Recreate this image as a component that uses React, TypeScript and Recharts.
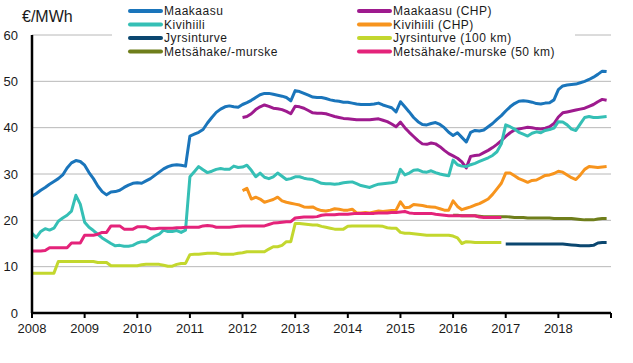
import { LineChart, Line, XAxis, YAxis, CartesianGrid, Legend } from 'recharts';

// monthly values, Jan 2008 = index 0
const yearTicks = [0, 12, 24, 36, 48, 60, 72, 84, 96, 108, 120, 132];
const yearLabels = ['2008', '2009', '2010', '2011', '2012', '2013', '2014', '2015', '2016', '2017', '2018', ''];
const yTicks = [0, 10, 20, 30, 40, 50, 60];

const maakaasu = [
  25.2, 25.8, 26.5, 27.1, 27.8, 28.4, 29.0, 29.8, 31.3, 32.4,
  32.9, 32.7, 31.9, 30.3, 29.0, 27.4, 26.2, 25.5, 26.1, 26.2,
  26.5, 27.1, 27.6, 28.0, 28.1, 28.0, 28.5, 29.0, 29.7, 30.4,
  31.1, 31.6, 31.9, 32.0, 31.9, 31.7, 38.2, 38.6, 39.0, 39.6,
  41.0, 42.2, 43.3, 44.0, 44.5, 44.7, 44.5, 44.4, 45.0, 45.4,
  45.9, 46.5, 47.1, 47.4, 47.4, 47.2, 47.0, 46.8, 46.5, 45.8,
  48.0, 47.8, 47.4, 47.0, 46.6, 46.5, 46.5, 46.3, 46.0, 45.8,
  45.7, 45.5, 45.5, 45.3, 45.1, 45.0, 45.0, 45.0, 45.1, 45.3,
  44.9, 44.6, 44.3, 43.4, 45.6, 44.5, 43.4, 42.2, 41.3, 40.7,
  40.6, 40.9, 41.1, 40.7, 40.0, 39.0, 38.3, 38.9, 37.9, 36.9,
  39.0, 39.4, 39.3, 39.5, 40.2, 40.9, 41.8, 42.6, 43.6, 44.5,
  45.2, 45.7, 45.8, 45.7, 45.5, 45.2, 45.1, 45.3, 45.4, 46.0,
  48.2, 49.0, 49.2, 49.3, 49.4, 49.7, 50.0, 50.4, 50.9, 51.5, 52.2, 52.1,
];

// from Jan 2012
const maakaasuChp = [
  42.2, 42.4, 43.0, 43.9, 44.5, 44.9, 44.6, 44.2, 44.1, 43.9,
  43.5, 43.0, 44.6, 44.5, 44.2, 43.7, 43.2, 43.1, 43.1, 43.0,
  42.7, 42.4, 42.2, 42.0, 41.9, 41.8, 41.7, 41.7, 41.7, 41.7,
  41.8, 41.9, 41.6, 41.3, 40.8, 40.2, 41.2, 40.0, 39.0, 38.1,
  37.2, 36.5, 36.4, 36.7, 36.5, 35.9, 35.1, 34.4, 33.9, 33.4,
  32.6, 31.3, 33.8, 34.0, 34.1, 34.6, 35.1, 35.7, 36.4, 37.2,
  38.1, 38.9, 39.5, 39.7, 39.9, 40.1, 40.0, 39.8, 39.7, 39.9,
  40.2, 40.9, 42.3, 43.2, 43.4, 43.6, 43.8, 44.0, 44.2, 44.6, 45.0, 45.6, 46.1, 45.9,
];

const kivihiili = [
  17.2, 16.3, 17.6, 18.2, 17.9, 18.3, 19.8, 20.5, 21.1, 22.0,
  25.4, 23.5, 19.6, 18.5, 17.8, 17.0, 16.2, 15.6, 15.0, 14.5,
  14.6, 14.4, 14.4, 14.6, 15.1, 15.4, 15.4, 16.0, 16.6, 17.0,
  17.9, 17.6, 17.6, 17.8, 17.4, 17.9, 29.4, 30.5, 31.6, 30.9,
  30.3, 30.6, 31.0, 31.2, 31.0, 31.0, 31.7, 31.4, 31.5, 31.9,
  30.8, 29.4, 30.2, 29.3, 29.0, 29.4, 30.2, 29.5, 28.8, 29.0,
  29.4, 29.4, 29.1, 28.9, 28.8, 28.4, 28.0, 27.9, 27.9, 27.8,
  27.9, 28.1, 28.2, 28.3, 27.9, 27.5, 27.3, 27.1, 27.5, 27.8,
  27.9, 28.0, 28.1, 28.3, 31.0, 29.8, 30.2, 30.8, 30.9, 30.5,
  30.4, 30.7, 30.3, 30.0, 29.8, 29.6, 33.0, 32.0, 31.7, 31.6,
  32.0, 32.3, 32.7, 33.1, 33.5, 34.0, 34.8, 36.5, 40.6, 40.2,
  39.7, 39.0, 38.6, 38.2, 38.8, 39.1, 38.9, 39.4, 39.6, 39.9,
  41.3, 41.2, 40.6, 39.7, 39.4, 40.8, 42.2, 42.4, 42.2, 42.2, 42.3, 42.4,
];

// from Jan 2012
const kivihiiliChp = [
  26.4, 26.9, 24.6, 25.0, 24.6, 23.9, 24.2, 24.5, 25.0, 24.2,
  23.9, 23.7, 23.5, 23.3, 22.9, 22.8, 22.9, 22.4, 22.1, 22.0,
  22.2, 22.5, 22.4, 22.2, 22.2, 22.4, 21.6, 21.6, 21.7, 21.6,
  21.8, 22.0, 21.9, 22.0, 22.1, 22.2, 24.0, 22.7, 22.8, 23.4,
  23.3, 23.2, 23.0, 22.9, 22.8, 22.5, 22.2, 22.2, 24.2, 23.0,
  22.3, 22.6, 22.9, 23.3, 23.6, 24.1, 24.6, 25.6, 26.8, 28.0,
  30.2, 30.2, 29.6, 29.0, 28.6, 28.2, 28.6, 28.7, 29.2, 29.7,
  29.8, 30.1, 30.6, 30.4, 29.8, 29.2, 28.8, 29.8, 31.0, 31.6, 31.5, 31.4, 31.5, 31.6,
];

// from Jan 2017
const jyrsinturve = [
  14.9, 14.9, 14.9, 14.9, 14.9, 14.9, 14.9, 14.9, 14.9, 14.9,
  14.9, 14.9, 14.9, 14.9, 14.8, 14.7, 14.6, 14.5, 14.5, 14.5,
  14.6, 15.1, 15.2, 15.2,
];

// to Dec 2016
const jyrsinturve100 = [
  8.6, 8.6, 8.6, 8.6, 8.6, 8.6, 11.1, 11.1, 11.1, 11.1,
  11.1, 11.1, 11.1, 11.1, 11.1, 10.9, 10.9, 10.9, 10.2, 10.2,
  10.2, 10.2, 10.2, 10.2, 10.2, 10.4, 10.5, 10.5, 10.5, 10.5,
  10.3, 10.1, 10.1, 10.5, 10.7, 10.7, 12.6, 12.7, 12.7, 12.8,
  12.9, 12.9, 12.9, 12.7, 12.7, 12.7, 12.7, 12.9, 13.0, 13.2,
  13.2, 13.2, 13.2, 13.2, 13.8, 14.3, 14.3, 14.6, 15.4, 15.4,
  19.3, 19.3, 19.2, 19.1, 19.0, 19.0, 18.7, 18.5, 18.3, 18.1,
  18.1, 18.1, 18.7, 18.8, 18.8, 18.8, 18.8, 18.8, 18.8, 18.8,
  18.7, 18.4, 18.3, 18.3, 17.4, 17.2, 17.2, 17.1, 17.0, 16.9,
  16.8, 16.8, 16.8, 16.8, 16.8, 16.8, 16.6, 16.2, 15.0, 15.4,
  15.3, 15.2, 15.2, 15.2, 15.2, 15.2, 15.2, 15.2,
];

// from Jan 2016
const metsahake = [
  21.1, 21.1, 21.0, 21.0, 21.0, 21.0, 20.9, 20.8, 20.8, 20.8,
  20.8, 20.8, 20.8, 20.7, 20.6, 20.6, 20.6, 20.5, 20.5, 20.5,
  20.5, 20.5, 20.5, 20.4, 20.4, 20.4, 20.4, 20.4, 20.3, 20.2,
  20.1, 20.1, 20.1, 20.3, 20.4, 20.4,
];

// to Dec 2016
const metsahake50 = [
  13.4, 13.4, 13.4, 13.5, 14.1, 14.1, 14.1, 14.1, 14.1, 15.1,
  15.1, 15.1, 16.8, 16.8, 16.8, 17.0, 17.4, 17.4, 18.8, 18.8,
  18.8, 18.1, 18.1, 18.1, 18.6, 18.6, 18.6, 18.2, 18.2, 18.3,
  18.3, 18.3, 18.3, 18.4, 18.4, 18.5, 18.5, 18.5, 18.5, 18.8,
  18.9, 18.8, 18.5, 18.5, 18.5, 18.5, 18.6, 18.7, 18.8, 18.8,
  18.8, 18.8, 18.8, 18.8, 19.1, 19.4, 19.5, 19.6, 19.7, 19.7,
  20.5, 20.6, 20.7, 20.7, 20.7, 20.8, 21.1, 21.2, 21.2, 21.2,
  21.3, 21.3, 21.3, 21.4, 21.5, 21.5, 21.5, 21.5, 21.5, 21.6,
  21.6, 21.6, 21.7, 21.7, 21.8, 21.9, 21.6, 21.5, 21.5, 21.5,
  21.5, 21.5, 21.3, 21.2, 21.1, 21.0, 21.0, 21.0, 21.0, 21.0,
  21.0, 21.0, 20.7, 20.6, 20.6, 20.6, 20.6, 20.6,
];

const pad = (start: number, values: number[]) => [...Array(start).fill(null), ...values];

const series = [
  { key: 'maakaasu', name: 'Maakaasu', color: '#1a75bb', values: maakaasu },
  { key: 'maakaasuChp', name: 'Maakaasu (CHP)', color: '#9e1a8e', values: pad(48, maakaasuChp) },
  { key: 'kivihiili', name: 'Kivihiili', color: '#35bfb5', values: kivihiili },
  { key: 'kivihiiliChp', name: 'Kivihiili (CHP)', color: '#f7941d', values: pad(48, kivihiiliChp) },
  { key: 'jyrsinturve', name: 'Jyrsinturve', color: '#0b4770', values: pad(108, jyrsinturve) },
  { key: 'jyrsinturve100', name: 'Jyrsinturve (100 km)', color: '#c3d72e', values: jyrsinturve100 },
  { key: 'metsahake', name: 'Metsähake/-murske', color: '#6f7e1b', values: pad(96, metsahake) },
  { key: 'metsahake50', name: 'Metsähake/-murske (50 km)', color: '#e4237a', values: metsahake50 },
];

const data = Array.from({ length: 132 }, (_, i) => {
  const row: Record<string, number | null> = { m: i };
  series.forEach((s) => {
    row[s.key] = s.values[i] ?? null;
  });
  return row;
});

const font = '"Liberation Sans", Arial, sans-serif';

const LegendBox = () => (
  <svg width={463} height={58} style={{ display: 'block' }}>
    {series.map((s, idx) => {
      const col = idx % 2;
      const row = Math.floor(idx / 2);
      const x = col === 0 ? 16 : 245;
      const y = 9 + row * 13.5;
      return (
        <g key={s.key}>
          <line x1={x + 2} x2={x + 33} y1={y} y2={y} stroke={s.color} strokeWidth={4} strokeLinecap="round" />
          <text x={x + 36} y={y} dy="0.35em" fontSize={12} letterSpacing={0.5} fill="#1a1a1a" fontFamily={font}>
            {s.name}
          </text>
        </g>
      );
    })}
  </svg>
);

export default function App() {
  return (
    <div style={{ position: 'absolute', left: 0, top: 0, width: 633, height: 363, background: '#fff', fontFamily: font }}>
      <div style={{ position: 'absolute', left: 22, top: 7, fontSize: 16, lineHeight: '20px', color: '#1a1a1a' }}>€/MWh</div>
      <LineChart width={633} height={363} data={data} margin={{ top: 35, right: 22, left: 0, bottom: 20 }}>
        <CartesianGrid vertical={false} stroke="#b8b8b8" strokeWidth={1} />
        <XAxis
          dataKey="m"
          type="number"
          domain={[0, 132]}
          ticks={yearTicks}
          tickFormatter={(v) => yearLabels[yearTicks.indexOf(v)] ?? ''}
          interval={0}
          height={30}
          tickSize={5}
          tickMargin={6}
          axisLine={{ stroke: '#000', strokeWidth: 2.5 }}
          tickLine={{ stroke: '#000', strokeWidth: 2 }}
          tick={{ fontSize: 13, fill: '#1a1a1a', fontFamily: font }}
        />
        <YAxis
          domain={[0, 60]}
          ticks={yTicks}
          interval={0}
          width={32}
          tickLine={false}
          tickSize={6}
          tickMargin={8}
          axisLine={{ stroke: '#000', strokeWidth: 2.5 }}
          tick={{ fontSize: 13, fill: '#1a1a1a', fontFamily: font }}
        />
        <Legend
          layout="horizontal"
          verticalAlign="middle"
          align="center"
          content={<LegendBox />}
          wrapperStyle={{ position: 'absolute', left: 112, top: 2, width: 463, height: 58, background: '#fff' }}
        />
        {series.map((s) => (
          <Line
            key={s.key}
            dataKey={s.key}
            name={s.name}
            type="linear"
            stroke={s.color}
            strokeWidth={3}
            dot={false}
            activeDot={false}
            strokeLinejoin="round"
            isAnimationActive={false}
          />
        ))}
      </LineChart>
    </div>
  );
}
